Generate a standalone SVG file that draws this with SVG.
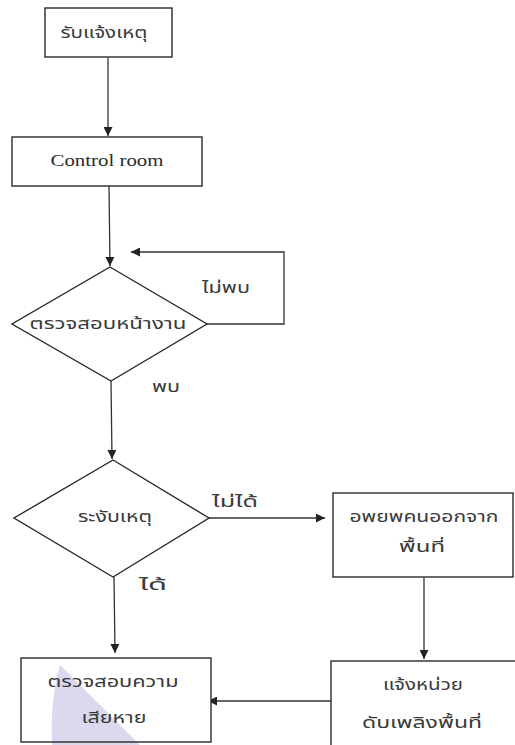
<svg xmlns="http://www.w3.org/2000/svg" width="515" height="745" viewBox="0 0 515 745">
  <style>
    .box { fill: #ffffff; stroke: #2a2a2a; stroke-width: 1.4; }
    .outline { fill: none; stroke: #2a2a2a; stroke-width: 1.4; }
    .wire { fill: none; stroke: #333333; stroke-width: 1.3; }
    .th { font-family: "Noto Sans Thai", "Noto Sans", "DejaVu Sans", sans-serif; font-size: 15px; fill: #3a3a3a; }
    .en { font-family: "Liberation Serif", "Times New Roman", serif; font-size: 16px; fill: #2b2b2b; }
    .mid { text-anchor: middle; }
  </style>
  <defs>
    <marker id="arrow" viewBox="0 0 10 10" refX="10" refY="5" markerWidth="9" markerHeight="9" markerUnits="userSpaceOnUse" orient="auto">
      <path d="M0,0 L10,5 L0,10 Z" fill="#222222"/>
    </marker>
  </defs>
  <rect width="515" height="745" fill="#ffffff"/>

  <g id="connectors">
    <line class="wire" x1="108" y1="58" x2="108" y2="136" marker-end="url(#arrow)"/>
    <line class="wire" x1="109" y1="186" x2="110" y2="266" marker-end="url(#arrow)"/>
    <polyline class="wire" points="207,324 284,324 284,252 131,252" marker-end="url(#arrow)"/>
    <line class="wire" x1="111" y1="381" x2="112" y2="459" marker-end="url(#arrow)"/>
    <line class="wire" x1="209" y1="518" x2="325" y2="518" marker-end="url(#arrow)"/>
    <line class="wire" x1="114" y1="577" x2="115" y2="653" marker-end="url(#arrow)"/>
    <line class="wire" x1="424" y1="578" x2="424" y2="659" marker-end="url(#arrow)"/>
    <line class="wire" x1="331" y1="701" x2="208" y2="701" marker-end="url(#arrow)"/>
  </g>

  <g id="report">
    <rect class="box" x="45" y="8" width="127" height="49"/>
    <text class="th mid" x="104" y="38" textLength="87" lengthAdjust="spacingAndGlyphs">รับแจ้งเหตุ</text>
  </g>

  <g id="control-room">
    <rect class="box" x="12" y="137" width="190" height="49"/>
    <text class="en mid" x="107" y="166" textLength="113" lengthAdjust="spacingAndGlyphs">Control room</text>
  </g>

  <g id="site-check">
    <polygon class="box" points="110,267 207,324 111,381 12,324"/>
    <text class="th mid" x="108" y="329" textLength="157" lengthAdjust="spacingAndGlyphs">ตรวจสอบหน้างาน</text>
    <text class="th" x="202" y="293" textLength="48" lengthAdjust="spacingAndGlyphs">ไม่พบ</text>
    <text class="th" x="152" y="392" textLength="28" lengthAdjust="spacingAndGlyphs">พบ</text>
  </g>

  <g id="suppress">
    <polygon class="box" points="113,460 209,518 113,577 14,518"/>
    <text class="th mid" x="115" y="522" textLength="74" lengthAdjust="spacingAndGlyphs">ระงับเหตุ</text>
    <text class="th" x="212" y="507" textLength="46" lengthAdjust="spacingAndGlyphs">ไม่ได้</text>
    <text class="th" x="139" y="590" textLength="28" lengthAdjust="spacingAndGlyphs">ได้</text>
  </g>

  <g id="evacuate">
    <rect class="box" x="333" y="493" width="180" height="84"/>
    <text class="th mid" x="424" y="522" textLength="149" lengthAdjust="spacingAndGlyphs">อพยพคนออกจาก</text>
    <text class="th mid" x="422" y="552" textLength="46" lengthAdjust="spacingAndGlyphs">พื้นที่</text>
  </g>

  <g id="fire-unit">
    <rect class="box" x="331" y="661" width="190" height="100"/>
    <text class="th mid" x="423" y="690" textLength="80" lengthAdjust="spacingAndGlyphs">แจ้งหน่วย</text>
    <text class="th mid" x="422" y="728" textLength="120" lengthAdjust="spacingAndGlyphs">ดับเพลิงพื้นที่</text>
  </g>

  <g id="damage-check">
    <rect x="21" y="658" width="190" height="84" fill="#ffffff"/>
    <!-- pale lavender wedge behind the box text -->
    <path d="M60,665 Q50,700 52,745 L140,745 Z" fill="#ddd8ee"/>
    <rect class="outline" x="21" y="658" width="190" height="84"/>
    <text class="th mid" x="113" y="687" textLength="131" lengthAdjust="spacingAndGlyphs">ตรวจสอบความ</text>
    <text class="th mid" x="114" y="723" textLength="65" lengthAdjust="spacingAndGlyphs">เสียหาย</text>
  </g>
</svg>
